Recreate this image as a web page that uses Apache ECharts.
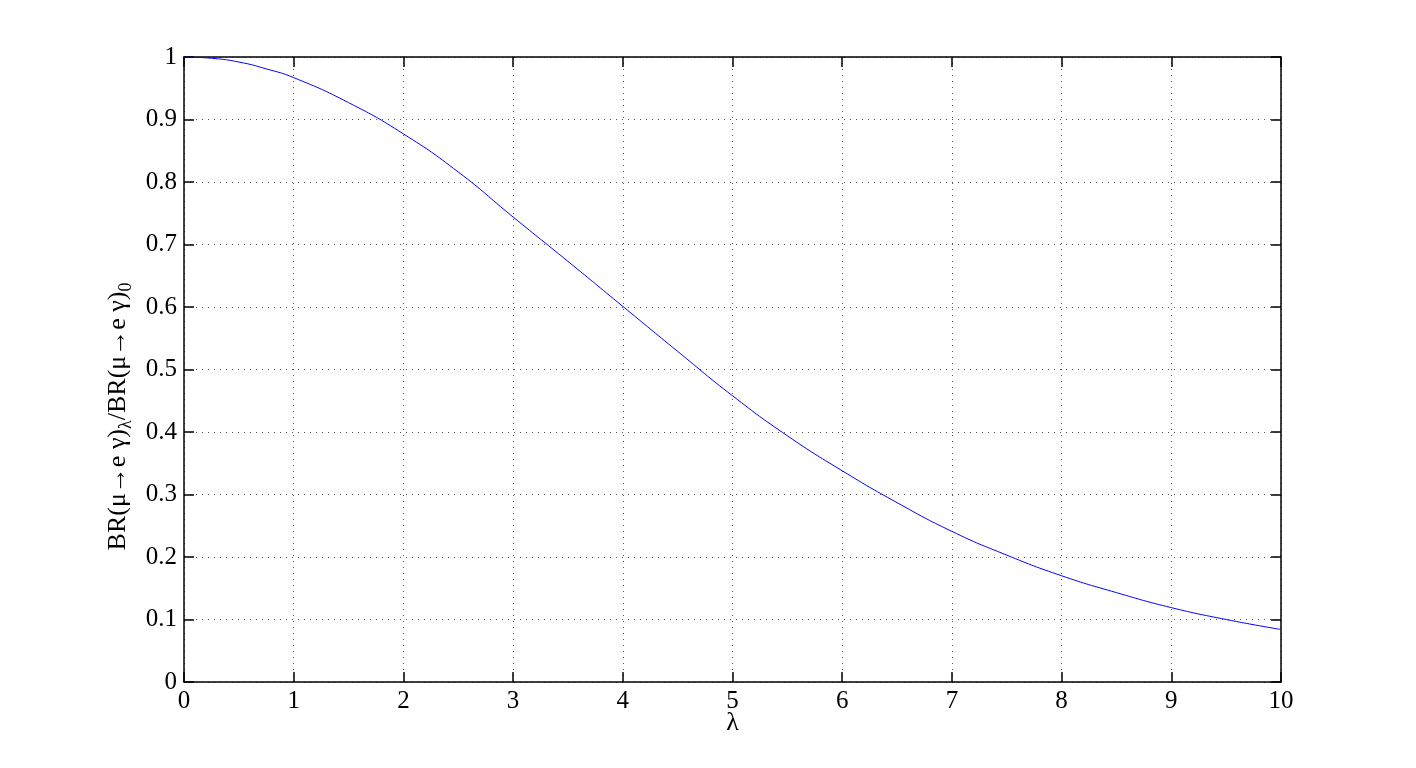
<!DOCTYPE html>
<html>
<head>
<meta charset="utf-8">
<script src="https://cdn.jsdelivr.net/npm/echarts@6/dist/echarts.min.js"></script>
<style>html,body{margin:0;padding:0;background:#fff}#c{width:1416px;height:768px}</style>
</head>
<body>
<div id="c"></div>
<script>
// λ values and BR ratio
const lambdaVals = [0, 0.25, 0.5, 0.75, 1, 1.5, 2, 2.5, 3, 3.5, 4, 4.5, 5, 5.5, 6, 6.5, 7, 7.5, 8, 8.5, 9, 9.5, 10];
const ratioVals  = [1.0, 0.998, 0.992, 0.981, 0.967, 0.927, 0.877, 0.816, 0.744, 0.673, 0.601, 0.529, 0.458, 0.394, 0.338, 0.287, 0.241, 0.203, 0.170, 0.143, 0.119, 0.100, 0.084];
const xTicks = [0,1,2,3,4,5,6,7,8,9,10];
const yTicks = [0,0.1,0.2,0.3,0.4,0.5,0.6,0.7,0.8,0.9,1];

const font = "'Liberation Serif', 'Times New Roman', serif";
const chart = echarts.init(document.getElementById('c'));
const gridLine = {show:true, lineStyle:{color:'#555', width:1, type:[1,5]}};
const axisLine = {show:true, onZero:false, lineStyle:{color:'#000', width:1.5}};
const tick = {show:true, inside:true, length:10, lineStyle:{color:'#000', width:1.5}};
chart.setOption({
  animation:false,
  backgroundColor:'#fff',
  grid:{left:184, right:135, top:57, bottom:86, containLabel:false},
  xAxis:[{
    type:'value', min:0, max:10, interval:1, position:'bottom',
    axisLine, axisTick:tick, splitLine:gridLine,
    axisLabel:{color:'#000', fontFamily:font, fontSize:25, margin:7, formatter:v=>String(v)},
    name:'λ', nameLocation:'middle', nameGap:28, nameMoveOverlap:false,
    nameTextStyle:{color:'#000', fontFamily:font, fontSize:26}
  },{
    type:'value', min:0, max:10, interval:1, position:'top',
    axisLine, axisTick:tick, splitLine:{show:false}, axisLabel:{show:false}
  }],
  yAxis:[{
    type:'value', min:0, max:1, interval:0.1, position:'left',
    axisLine, axisTick:tick, splitLine:gridLine,
    axisLabel:{color:'#000', fontFamily:font, fontSize:25, margin:7, formatter:v=>String(+v.toFixed(1))},
    name:'{a|BR(μ→e γ)}{s|λ}{a|/BR(μ→e γ)}{s|0}',
    nameLocation:'middle', nameGap:48, nameRotate:90,
    nameTextStyle:{
      color:'#000', fontFamily:font, fontSize:26, align:'center', verticalAlign:'middle',
      padding:[0, 94, 0, 0],
      rich:{
        a:{fontFamily:font, fontSize:26, color:'#000', lineHeight:34},
        s:{fontFamily:font, fontSize:18, color:'#000', lineHeight:34, verticalAlign:'bottom'}
      }
    }
  },{
    type:'value', min:0, max:1, interval:0.1, position:'right',
    axisLine, axisTick:tick, splitLine:{show:false}, axisLabel:{show:false}
  }],
  series:[{
    type:'line', xAxisIndex:0, yAxisIndex:0, smooth:true, symbol:'none',
    lineStyle:{color:'#0000ff', width:1},
    data: lambdaVals.map((x,i)=>[x, ratioVals[i]])
  }]
});
</script>
</body>
</html>
